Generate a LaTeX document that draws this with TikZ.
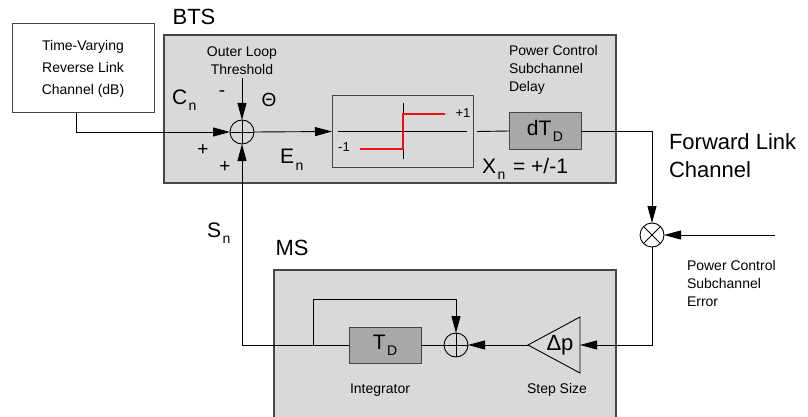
\documentclass[tikz,border=0pt]{standalone}
\usepackage{fontspec}
\setmainfont{Liberation Sans}
\usetikzlibrary{arrows.meta,calc}
\definecolor{panelfill}{RGB}{217,217,217}
\definecolor{panelline}{RGB}{70,70,70}
\definecolor{blockfill}{RGB}{168,168,168}
\definecolor{stepred}{RGB}{235,20,20}
\newcommand\subn[1]{\kern1.5pt\raisebox{-6pt}{\fontsize{14}{14}\selectfont #1}}
\begin{document}
\begin{tikzpicture}[x=1pt,y=-1pt,
  every node/.style={inner sep=0pt, outer sep=0pt},
  panel/.style={fill=panelfill, draw=panelline, line width=1.2pt, rectangle, anchor=north west},
  plainbox/.style={draw=panelline, line width=1pt, rectangle, anchor=north west},
  grayblock/.style={fill=blockfill, draw=panelline, line width=1pt, rectangle, anchor=north west, font=\fontsize{21}{21}\selectfont},
  sumnode/.style={circle, draw, line width=0.9pt, minimum size=24pt,
    path picture={\draw[line width=0.8pt] (path picture bounding box.north) -- (path picture bounding box.south) (path picture bounding box.west) -- (path picture bounding box.east);}},
  multnode/.style={circle, draw, line width=0.9pt, minimum size=24pt,
    path picture={\draw[line width=0.8pt] (path picture bounding box.north west) -- (path picture bounding box.south east) (path picture bounding box.south west) -- (path picture bounding box.north east);}},
  conn/.style={line width=0.9pt},
  arr/.style={-{Triangle[length=17pt,width=9pt]}},
  small/.style={font=\fontsize{14}{18}\selectfont},
  big/.style={font=\fontsize{22}{28}\selectfont},
  sym/.style={font=\fontsize{21}{21}\selectfont},
  sign/.style={font=\fontsize{19}{19}\selectfont}
]
\path[use as bounding box] (0,0) rectangle (808,417);

% panels
\node[panel, minimum width=452pt, minimum height=148pt] (bts) at (164,35) {};
\node[fill=panelfill, rectangle, anchor=north west, minimum width=342pt, minimum height=147pt] (ms) at (274,270) {};
\draw[draw=panelline, line width=1.2pt] (ms.south west) |- (ms.north) -| (ms.south east);

\node[big] (btsl) at (194,17) {BTS};
\node[big] (msl) at (292,248) {MS};

% source box
\node[plainbox, minimum width=142pt, minimum height=89pt, align=center, font=\fontsize{14}{22}\selectfont] (tv) at (12,24) {Time-Varying\\Reverse Link\\Channel (dB)};

% summing junction (BTS)
\node[sumnode] (s1) at (242,132) {};
\node[small, align=center] (olt) at (242,61) {Outer Loop\\Threshold};
\coordinate (oltin) at (242,78);

\node[sym, anchor=base west] (cn) at (172,105) {C\subn{n}};
\node[sign] (minus) at (222,94) {-};
\node[sign] (theta) at (269,100) {Θ};
\node[sign] (plus1) at (203,150) {+};
\node[sign] (plus2) at (225,167) {+};
\node[sym, anchor=base west] (en) at (280,164) {E\subn{n}};

% threshold (hard limiter)
\node[plainbox, minimum width=141pt, minimum height=71pt] (thr) at (332,96) {};
\draw[line width=0.8pt] (338,131) -- (467,131);
\draw[line width=0.8pt] (403,103) -- (403,159);
\draw[draw=stepred, line width=1.2pt] (360,149) -- (403,149) -- (403,114) -- (445,114);
\node[font=\fontsize{13}{13}\selectfont] (p1) at (463,113) {+1};
\node[font=\fontsize{13}{13}\selectfont] (m1) at (344,147) {-1};

% delay
\node[grayblock, minimum width=72pt, minimum height=36pt] (dtd) at (509,113) {dT\subn{D}};
\node[small, align=left, anchor=west] (pcd) at (509,70) {Power Control\\Subchannel\\Delay};
\node[sym, anchor=base west] (xn) at (482,173) {X\subn{n}\kern2pt{} = +/-1};

% forward link
\node[big, align=left, anchor=west] (fwd) at (669,156) {Forward Link\\Channel};
\node[multnode] (mult) at (652,235) {};
\coordinate (pcin) at (775,235);
\node[small, align=left, anchor=west] (pce) at (687,283) {Power Control\\Subchannel\\Error};

% MS blocks
\coordinate (triR) at (580,345);
\coordinate (triL) at (528,345);
\draw[line width=0.9pt] (580,317) -- (580,373) -- (triL) -- cycle;
\node[font=\fontsize{22}{22}\selectfont] (dp) at (560,345) {Δp};
\node[small] (ssl) at (557,390) {Step Size};

\node[sumnode] (s2) at (456,345) {};
\node[grayblock, minimum width=72pt, minimum height=36pt] (tdb) at (349,327) {T\subn{D}};
\node[small] (intl) at (380,390) {Integrator};
\coordinate (fbk) at (313,345);
\coordinate (fbtop) at (313,299);

\node[sym, anchor=base west] (sn) at (207,237) {S\subn{n}};

% connectors
\draw[conn, arr] (tv.south west) ++(64,0) |- (s1.west);
\draw[conn, arr] (oltin) -- (s1.north);
\draw[conn, arr] (s1.east) -- (thr.west);
\draw[conn] (thr.east) ++(4,0) -- (dtd.west);
\draw[conn, arr] (dtd.east) -| (mult.north);
\draw[conn, arr] (pcin) -- (mult.east);
\draw[conn, arr] (mult.south) |- (triR);
\draw[conn, arr] (triL) -- (s2.east);
\draw[conn] (tdb.east) -- (s2.west);
\draw[conn, arr] (tdb.west) -| (s1.south);
\draw[conn, arr] (fbk) -- (fbtop) -| (s2.north);
\end{tikzpicture}
\end{document}
